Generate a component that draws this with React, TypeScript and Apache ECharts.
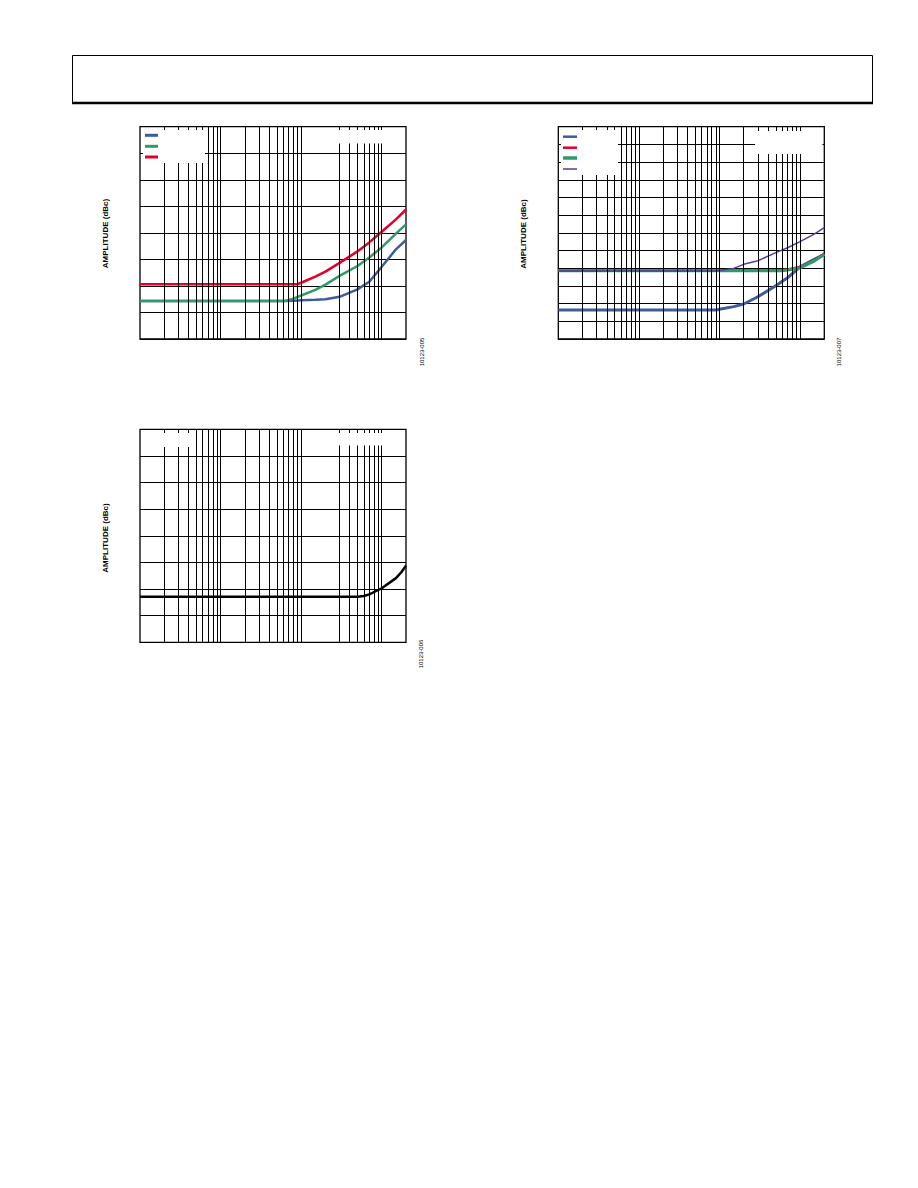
import React, { useEffect, useRef } from "react";
import * as echarts from "echarts";

// Vertical gridline frequencies (Hz)
const gridFreqsNo2k = [20, 30, 40, 50, 60, 70, 80, 90, 100, 200, 300, 400, 500, 600, 700, 800, 900, 1000, 3000, 4000, 5000, 6000, 7000, 8000, 9000, 10000];
const gridFreqsFull = [20, 30, 40, 50, 60, 70, 80, 90, 100, 200, 300, 400, 500, 600, 700, 800, 900, 1000, 2000, 3000, 4000, 5000, 6000, 7000, 8000, 9000, 10000];

// Chart 1 (10123-005)
const c1Freq = [10, 630, 800, 1000, 1500, 2000, 3000, 5000, 7000, 10000, 15000, 20000];
const c1Blue = [-115.7, -115.7, -115.6, -115.4, -115.2, -115.0, -114.1, -111.3, -108.4, -102.8, -96.2, -92.7];
const c1Green = [-115.7, -115.7, -114.8, -113.6, -111.5, -109.5, -106.2, -102.5, -99.3, -95.5, -90.3, -86.8];
const c1RedFreq = [10, 880, 1000, 1500, 2000, 3000, 5000, 7000, 10000, 15000, 20000];
const c1Red = [-109.4, -109.4, -108.8, -106.5, -104.6, -101.3, -97.0, -93.6, -89.6, -84.9, -81.2];

// Chart 2 (10123-007)
const c2Freq = [10, 920, 1000, 1500, 2000, 3000, 5000, 7000, 10000, 15000, 20000];
const c2Blue = [-133.6, -133.6, -133.2, -131.7, -130.2, -126.1, -119.9, -115.4, -109.2, -105.0, -102.2];
const c2Purple = [-111.5, -111.5, -111.2, -110.1, -107.8, -105.8, -101.2, -98.4, -95.0, -90.7, -87.1];
const c2RGFreq = [10, 5000, 6000, 7000, 10000, 15000, 20000];
const c2Red = [-111.4, -111.4, -111.0, -110.5, -109.2, -105.4, -101.6];
const c2Green = [-111.4, -111.4, -111.3, -111.0, -109.7, -105.9, -102.2];

// Chart 3 (10123-006)
const c3Freq = [10, 5000, 6000, 7000, 10000, 15000, 17500, 20000];
const c3Black = [-112.9, -112.9, -112.6, -112.0, -109.7, -105.9, -103.7, -101.2];

const yAxisLabel = "AMPLITUDE (dBc)";
const figureIds = ["10123-005", "10123-007", "10123-006"];

const BLUE = "#3d5c9b";
const GREEN = "#2f9a6a";
const RED = "#e2002a";
const PURPLE = "#5a3a96";

function pairs(xs: number[], ys: number[]) {
  return xs.map((x, i) => [x, ys[i]]);
}

export default function App() {
  const ref = useRef<HTMLDivElement>(null);
  useEffect(() => {
    const chart = echarts.init(ref.current!, null, { renderer: "svg" });
    const grids = [
      { left: 140, top: 126.7, width: 266, height: 212.3 },
      { left: 558.3, top: 126.7, width: 266, height: 212.3 },
      { left: 140, top: 429.3, width: 266, height: 213 },
    ].map((g) => ({ ...g, show: true, borderColor: "#000", borderWidth: 1.3, backgroundColor: "transparent" }));

    const yRanges = [
      [-130, -50],
      [-150, -30],
      [-130, -50],
    ];

    const xAxis = grids.map((_, i) => ({
      type: "log",
      logBase: 10,
      min: 10,
      max: 20000,
      gridIndex: i,
      axisLine: { show: false },
      axisTick: { show: false },
      axisLabel: { show: false },
      splitLine: { show: false },
    }));
    const yAxis = grids.map((_, i) => ({
      type: "value",
      gridIndex: i,
      min: yRanges[i][0],
      max: yRanges[i][1],
      interval: 10,
      axisLine: { show: false },
      axisTick: { show: false },
      axisLabel: { show: false },
      splitLine: { show: true, lineStyle: { color: "#000", width: 1 } },
    }));

    const gridSeries = (i: number, freqs: number[]) => ({
      type: "line",
      xAxisIndex: i,
      yAxisIndex: i,
      data: [],
      silent: true,
      z: 1,
      markLine: {
        silent: true,
        symbol: ["none", "none"],
        label: { show: false },
        emphasis: { disabled: true },
        lineStyle: { color: "#000", width: 1, type: "solid" },
        data: freqs.map((f) => ({ xAxis: f })),
      },
    });

    const curve = (i: number, name: string, data: number[][], color: string, width: number) => ({
      type: "line",
      name,
      xAxisIndex: i,
      yAxisIndex: i,
      data,
      symbol: "none",
      showSymbol: false,
      smooth: false,
      silent: true,
      z: 3,
      lineStyle: { color, width },
    });

    const series = [
      gridSeries(0, gridFreqsNo2k),
      gridSeries(1, gridFreqsFull),
      gridSeries(2, gridFreqsNo2k),
      curve(0, "c1blue", pairs(c1Freq, c1Blue), BLUE, 2.5),
      curve(0, "c1green", pairs(c1Freq, c1Green), GREEN, 2.5),
      curve(0, "c1red", pairs(c1RedFreq, c1Red), RED, 2.5),
      curve(1, "c2blue", pairs(c2Freq, c2Blue), BLUE, 3),
      curve(1, "c2red", pairs(c2RGFreq, c2Red), RED, 2),
      curve(1, "c2green", pairs(c2RGFreq, c2Green), GREEN, 3.2),
      curve(1, "c2purple", pairs(c2Freq, c2Purple), PURPLE, 1.5),
      curve(2, "c3black", pairs(c3Freq, c3Black), "#000", 2.5),
    ];

    const whiteBox = (x: number, y: number, w: number, h: number) => ({
      type: "rect",
      z: 50,
      silent: true,
      shape: { x, y, width: w, height: h },
      style: { fill: "#fff", stroke: null },
    });
    const legLine = (x1: number, x2: number, y: number, color: string, w: number) => ({
      type: "line",
      z: 60,
      silent: true,
      shape: { x1, y1: y, x2, y2: y },
      style: { stroke: color, lineWidth: w },
    });
    const vText = (x: number, y: number, text: string, font: string) => ({
      type: "text",
      z: 60,
      silent: true,
      x,
      y,
      rotation: Math.PI / 2,
      style: { text, fill: "#000", font, align: "center", verticalAlign: "middle" },
    });

    const labelFont = "bold 8px Arial, sans-serif";
    const idFont = "6px Arial, sans-serif";

    const graphic = [
      // header box
      { type: "rect", silent: true, z: 60, shape: { x: 72.5, y: 55.5, width: 800, height: 48 }, style: { fill: "none", stroke: "#000", lineWidth: 1 } },
      { type: "line", silent: true, z: 61, shape: { x1: 72, y1: 103, x2: 873, y2: 103 }, style: { stroke: "#000", lineWidth: 2.5 } },
      // chart 1 boxes & legend
      whiteBox(143, 130, 62, 33),
      whiteBox(336, 130, 49, 13.5),
      legLine(145, 158, 135.3, BLUE, 3),
      legLine(145, 158, 146.3, GREEN, 3),
      legLine(145, 158, 157, RED, 3),
      // chart 2 boxes & legend
      whiteBox(561, 130, 57, 45),
      whiteBox(755, 131, 67.5, 23),
      legLine(563, 577, 136.7, BLUE, 2.5),
      legLine(563, 577, 147.7, RED, 2.5),
      legLine(563, 577, 158, GREEN, 3.5),
      legLine(563, 577, 169, PURPLE, 1.5),
      // chart 3 boxes
      whiteBox(143, 433, 50, 14),
      whiteBox(336, 433, 49, 12.5),
      // axis labels
      vText(105, 233.5, yAxisLabel, labelFont),
      vText(523, 234, yAxisLabel, labelFont),
      vText(105, 538, yAxisLabel, labelFont),
      // figure ids
      vText(422, 352, figureIds[0], idFont),
      vText(839, 352, figureIds[1], idFont),
      vText(421, 654, figureIds[2], idFont),
    ];

    chart.setOption({
      animation: false,
      grid: grids,
      xAxis,
      yAxis,
      series,
      graphic,
    });
    return () => chart.dispose();
  }, []);
  return <div ref={ref} style={{ position: "absolute", left: 0, top: 0, width: 918, height: 1188 }} />;
}
